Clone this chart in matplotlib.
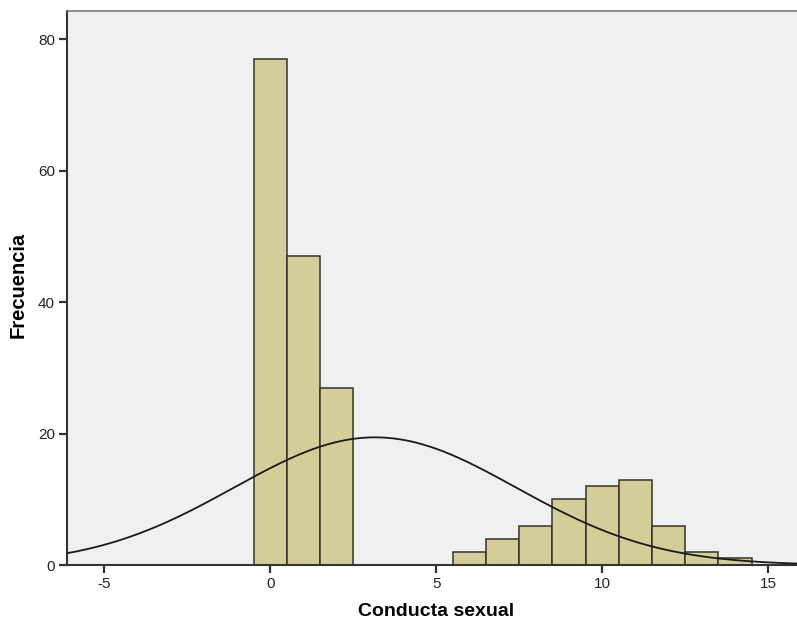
import numpy as np
import matplotlib
matplotlib.use("Agg")
import matplotlib.pyplot as plt

plt.rcParams['font.family'] = ['Liberation Sans', 'DejaVu Sans']
plt.rcParams['axes.unicode_minus'] = False

# Histogram of "Conducta sexual" (bin width 1, centred on integers)
scores = [0, 1, 2, 3, 4, 5, 6, 7, 8, 9, 10, 11, 12, 13, 14]
counts = [77, 47, 27, 0, 0, 0, 2, 4, 6, 10, 12, 13, 6, 2, 1]
x_ticks = [-5, 0, 5, 10, 15]
y_ticks = [0, 20, 40, 60, 80]

scores_arr = np.array(scores, dtype=float)
counts_arr = np.array(counts, dtype=float)
n = counts_arr.sum()
mean = (scores_arr * counts_arr).sum() / n
sd = np.sqrt(((scores_arr - mean) ** 2 * counts_arr).sum() / (n - 1))

fig = plt.figure(figsize=(7.97, 6.22), dpi=100)
ax = fig.add_axes([0.0837, 0.0916, 0.9163, 0.8907])
ax.set_facecolor('#F0F0F0')

ax.bar(scores_arr, counts_arr, width=1.0, color='#D3CE97',
       edgecolor='#33332A', linewidth=1.1, zorder=2)

# Fitted normal curve scaled to the counts
xs = np.linspace(-6.2, 16, 500)
ys = n * 1.0 / (sd * np.sqrt(2 * np.pi)) * np.exp(-0.5 * ((xs - mean) / sd) ** 2)
ax.plot(xs, ys, color='#1A1A1A', linewidth=1.3, zorder=3)

ax.set_xlim(-6.13, 15.87)
ax.set_ylim(0, 84.3)
ax.set_xticks(x_ticks)
ax.set_yticks(y_ticks)
ax.tick_params(axis='both', direction='out', length=5.5, width=1.6,
               colors='#333333', labelsize=11, labelcolor='#222222', pad=3)

for side in ['left', 'bottom']:
    ax.spines[side].set_color('#333333')
    ax.spines[side].set_linewidth(1.5)
ax.spines['top'].set_color('#777777')
ax.spines['top'].set_linewidth(1.2)
ax.spines['right'].set_visible(False)

ax.set_xlabel('Conducta sexual', fontsize=14, fontweight='bold', va='center')
ax.xaxis.set_label_coords(0.506, -0.083)
ax.set_ylabel('Frecuencia', fontsize=14.5, fontweight='bold', va='center')
ax.yaxis.set_label_coords(-0.067, 0.505)

fig.savefig('out.png', dpi=100, facecolor='white')
